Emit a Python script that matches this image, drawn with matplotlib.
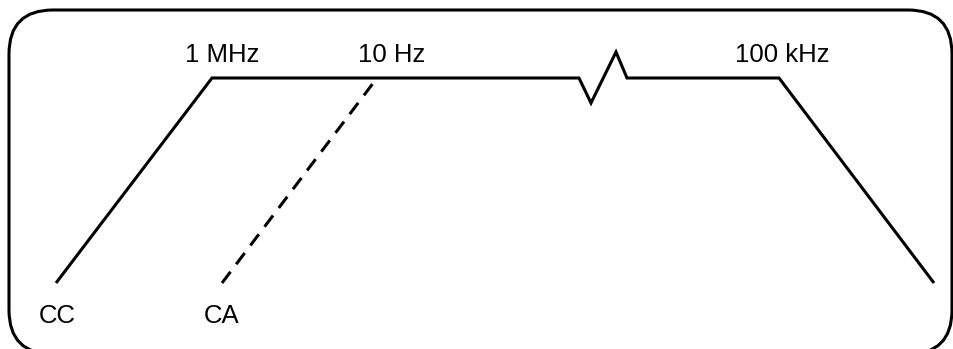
import matplotlib
matplotlib.use("Agg")
import matplotlib.pyplot as plt
from matplotlib.patches import FancyBboxPatch
from matplotlib.transforms import IdentityTransform

plt.rcParams['font.family'] = ['Liberation Sans', 'DejaVu Sans']

# Frequency-response outline (pixel-space vertices, y grows downward)
cc_x = [56, 212, 579, 591, 616, 627, 779, 934]
cc_y = [283, 78, 78, 103, 52, 78, 78, 283]

# Alternate (CA) low-frequency roll-off, joining the plateau
ca_x = [222, 377]
ca_y = [283, 78]

# Corner-frequency labels
top_labels = ["1 MHz", "10 Hz", "100 kHz"]
top_label_x = [222, 392, 782]
bottom_labels = ["CC", "CA"]
bottom_label_x = [57, 222]

W, H = 954, 349
fig = plt.figure(figsize=(W / 100, H / 100), dpi=100)
ax = fig.add_axes([0, 0, 1, 1])
ax.set_xlim(0, W)
ax.set_ylim(H, 0)
ax.axis('off')

lw = 2.2
# Rounded frame, laid out in device pixels (origin bottom-left);
# its bottom edge runs just past the lower border of the image
box = FancyBboxPatch((9, H - 354), 943, 344,
                     boxstyle="round,pad=0,rounding_size=44",
                     fill=False, edgecolor='black', linewidth=lw,
                     transform=IdentityTransform())
fig.patches.append(box)
box.set_figure(fig)

ax.plot(cc_x, cc_y, color='black', linewidth=lw,
        solid_joinstyle='miter', solid_capstyle='butt')
ax.plot(ca_x, ca_y, color='black', linewidth=lw,
        linestyle=(0, (4.6, 3.1)), dash_capstyle='butt')

for txt, x in zip(top_labels, top_label_x):
    ax.text(x, 62, txt, ha='center', va='baseline', fontsize=18.5)
for txt, x in zip(bottom_labels, bottom_label_x):
    ax.text(x, 323, txt, ha='center', va='baseline', fontsize=18.5)

fig.savefig("out.png", dpi=100)
